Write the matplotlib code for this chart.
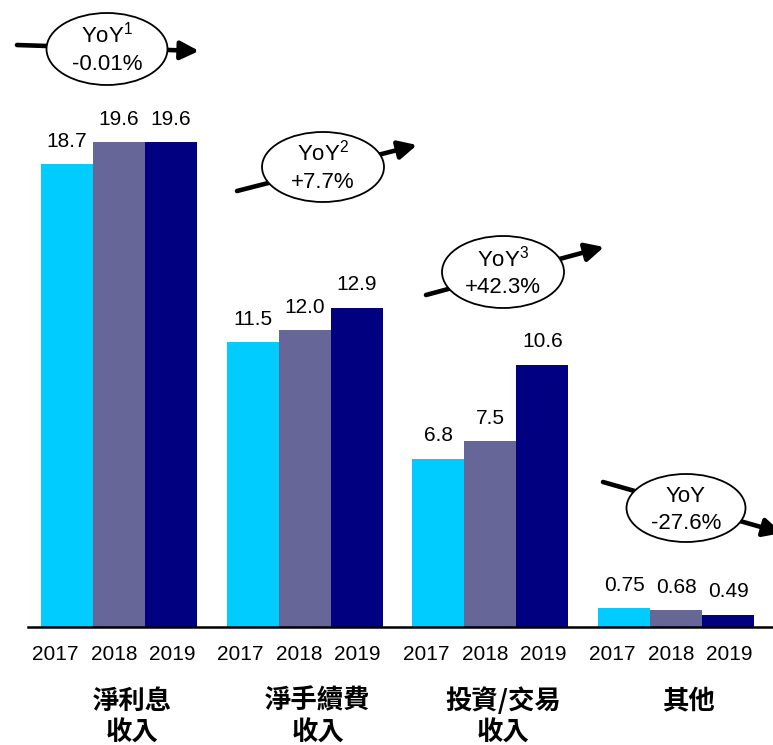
import numpy as np
import matplotlib.pyplot as plt
import matplotlib.transforms as mtransforms
from matplotlib.patches import Ellipse

plt.rcParams['font.family'] = ['Liberation Sans', 'DejaVu Sans']
plt.rcParams['mathtext.fontset'] = 'custom'
plt.rcParams['mathtext.rm'] = 'Liberation Sans'

# 營收組成 (十億)
categories = ['淨利息', '淨手續費', '投資/交易', '其他']
categories_line2 = ['收入', '收入', '收入', '']
years = ['2017', '2018', '2019']
v2017 = [18.7, 11.5, 6.8, 0.75]
v2018 = [19.6, 12.0, 7.5, 0.68]
v2019 = [19.6, 12.9, 10.6, 0.49]
yoy_text = ['YoY$^{1}$', 'YoY$^{2}$', 'YoY$^{3}$', 'YoY']
yoy_value = ['-0.01%', '+7.7%', '+42.3%', '-27.6%']

colors = ['#00CCFF', '#666699', '#000080']

W, H = 773, 745
fig = plt.figure(figsize=(W / 100, H / 100), dpi=100)
ax = fig.add_axes([0, 0, 1, 1])
ax.set_xlim(-0.641, 3.522)
ax.set_ylim(-4.77, 25.34)
ax.axis('off')

# pixel coordinates measured from the top-left corner
px = mtransforms.Affine2D().scale(1 / W, -1 / H).translate(0, 1) + fig.transFigure
xpx = mtransforms.blended_transform_factory(ax.transData, px)

x = np.arange(len(categories))
bw = 0.28
for i, vals in enumerate([v2017, v2018, v2019]):
    xs = x + (i - 1) * bw
    ax.bar(xs, vals, width=bw, color=colors[i], zorder=2)
    for xi, v in zip(xs, vals):
        lab = f'{v:.1f}' if v >= 1 else f'{v:.2f}'
        ax.annotate(lab, (xi, v), xytext=(0, 12.5), textcoords='offset points',
                    ha='center', va='baseline', fontsize=15)

ax.axhline(0, xmin=28 / W, xmax=1, color='black', lw=1.8, zorder=3)

# year labels under each group
year_off = [-0.345, -0.027, 0.285]
for xi in x:
    for off, yr in zip(year_off, years):
        ax.text(xi + off, 660, yr, transform=xpx, ha='center', va='baseline',
                fontsize=15)

for xi, l1, l2 in zip(x, categories, categories_line2):
    for yy, s in [(701, l1), (733, l2)]:
        ax.text(xi + 0.07, yy, s, transform=xpx, ha='center', va='center',
                fontsize=19, fontweight='bold',
                family=['Noto Sans CJK TC', 'DejaVu Sans'])

# YoY bubbles with arrows: (center, size, arrow start, arrow tip)
bubbles = [
    ((107, 49), (121, 72), (17, 45), (199, 51)),
    ((323, 167), (122, 70), (237, 191), (417, 145)),
    ((503, 272), (122, 72), (426, 295), (604, 247)),
    ((686, 508), (119, 68), (603, 482), (782, 533)),
]
for (c, sz, a0, a1), t1, t2 in zip(bubbles, yoy_text, yoy_value):
    ax.annotate('', xy=a1, xytext=a0, xycoords=px, textcoords=px,
                annotation_clip=False,
                arrowprops=dict(arrowstyle='-|>,head_length=1.1,head_width=0.55',
                                lw=3.3, color='black', shrinkA=0, shrinkB=0,
                                mutation_scale=10),
                zorder=4)
    ax.add_patch(Ellipse(c, sz[0], sz[1], transform=px, facecolor='white',
                         edgecolor='black', lw=1.3, zorder=5))
    ax.text(c[0], c[1] - 6, t1, transform=px, ha='center', va='baseline',
            fontsize=16, zorder=6)
    ax.text(c[0], c[1] + 21, t2, transform=px, ha='center', va='baseline',
            fontsize=16, zorder=6)

fig.savefig('out.png', dpi=100)
